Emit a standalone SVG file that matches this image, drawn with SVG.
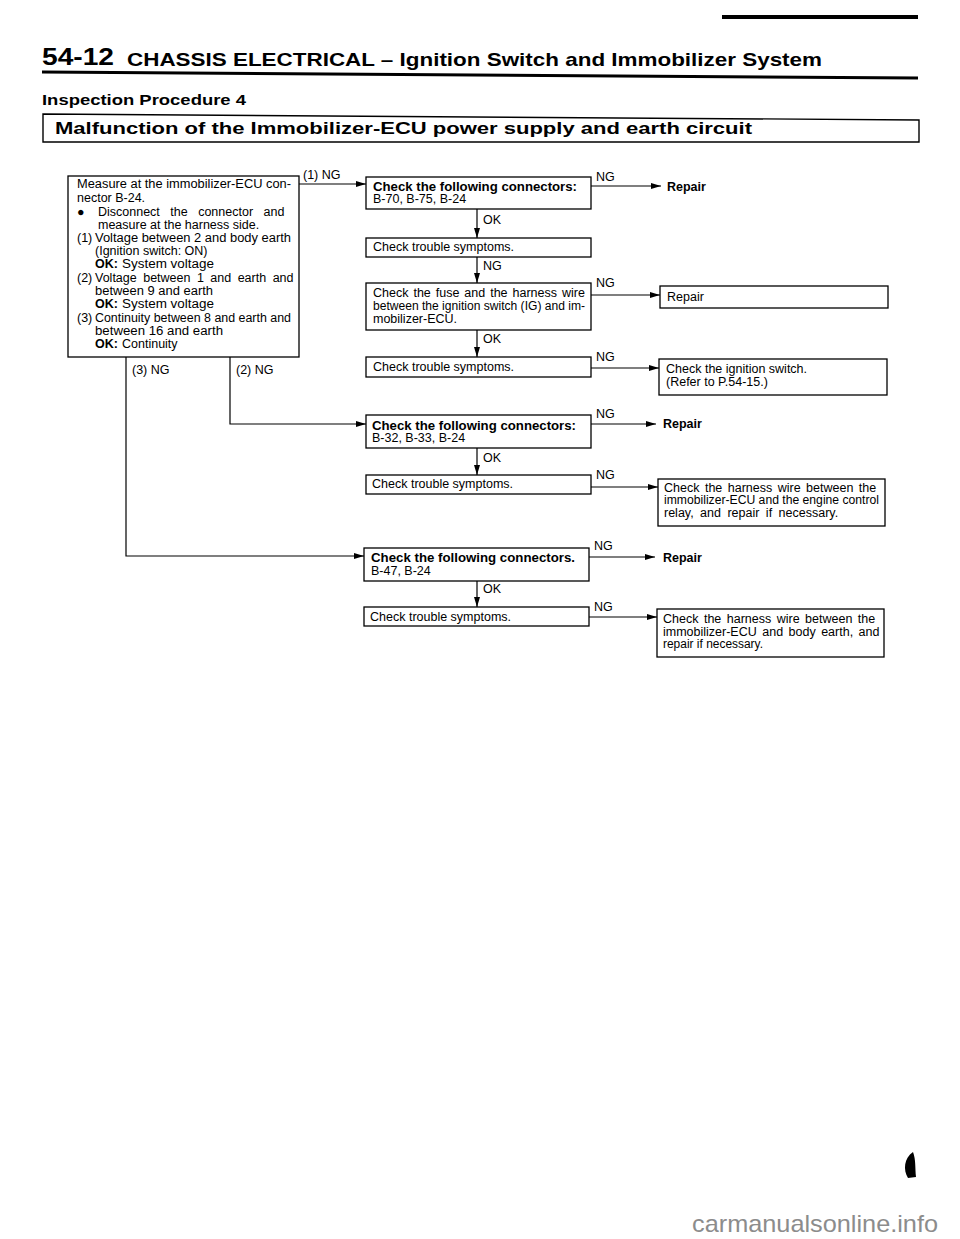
<svg xmlns="http://www.w3.org/2000/svg" width="960" height="1239" viewBox="0 0 960 1239">
<style>
.t{font-family:"Liberation Sans",Arial,sans-serif;font-size:12.5px;fill:#000}
.b{font-weight:bold}
.h{font-family:"Liberation Sans",Arial,sans-serif;font-weight:bold;fill:#000}
.box{fill:#fff;stroke:#000;stroke-width:1.3}
.ln{fill:none;stroke:#000;stroke-width:1.2}
.wm{font-family:"Liberation Sans",Arial,sans-serif;font-size:24px;fill:#8c8c8c}
</style>
<defs>
<marker id="ah" markerUnits="userSpaceOnUse" markerWidth="10" markerHeight="6" refX="10" refY="3" orient="auto">
<path d="M0,0 L10,3 L0,6 z" fill="#000"/>
</marker>
</defs>
<rect width="960" height="1239" fill="#fff"/>

<g id="header">
<rect x="722" y="15" width="196" height="4" fill="#000"/>
<text class="h" x="42" y="65" font-size="24" textLength="72" lengthAdjust="spacingAndGlyphs">54-12</text>
<text class="h" x="127" y="66" font-size="19" textLength="695" lengthAdjust="spacingAndGlyphs">CHASSIS ELECTRICAL – Ignition Switch and Immobilizer System</text>
<path d="M42,72 L918,78" stroke="#000" stroke-width="3" fill="none"/>
<text class="h" x="42" y="105" font-size="15" textLength="204" lengthAdjust="spacingAndGlyphs">Inspection Procedure 4</text>
<path d="M43,142 V114 L919,120 V142 Z" fill="none" stroke="#000" stroke-width="1.4"/>
<text class="h" x="55" y="134" font-size="16" textLength="697" lengthAdjust="spacingAndGlyphs">Malfunction of the Immobilizer-ECU power supply and earth circuit</text>
</g>

<g id="connectors">
<path class="ln" d="M299,184 H366" marker-end="url(#ah)"/>
<path class="ln" d="M230,357 V424 H366" marker-end="url(#ah)"/>
<path class="ln" d="M126,357 V556 H364" marker-end="url(#ah)"/>
<path class="ln" d="M477,209 V238" marker-end="url(#ah)"/>
<path class="ln" d="M477,257 V283" marker-end="url(#ah)"/>
<path class="ln" d="M477,330 V357" marker-end="url(#ah)"/>
<path class="ln" d="M477,448 V475" marker-end="url(#ah)"/>
<path class="ln" d="M477,581 V607" marker-end="url(#ah)"/>
<path class="ln" d="M591,186 H661" marker-end="url(#ah)"/>
<path class="ln" d="M591,295 H660" marker-end="url(#ah)"/>
<path class="ln" d="M591,368 H659" marker-end="url(#ah)"/>
<path class="ln" d="M591,424 H656" marker-end="url(#ah)"/>
<path class="ln" d="M591,487 H658" marker-end="url(#ah)"/>
<path class="ln" d="M589,557 H655" marker-end="url(#ah)"/>
<path class="ln" d="M589,617 H657" marker-end="url(#ah)"/>
<text class="t" x="303" y="179">(1) NG</text>
<text class="t" x="236" y="374">(2) NG</text>
<text class="t" x="132" y="374">(3) NG</text>
<text class="t" x="483" y="224">OK</text>
<text class="t" x="483" y="270">NG</text>
<text class="t" x="483" y="343">OK</text>
<text class="t" x="483" y="462">OK</text>
<text class="t" x="483" y="593">OK</text>
<text class="t" x="596" y="181">NG</text>
<text class="t" x="596" y="287">NG</text>
<text class="t" x="596" y="361">NG</text>
<text class="t" x="596" y="418">NG</text>
<text class="t" x="596" y="479">NG</text>
<text class="t" x="594" y="550">NG</text>
<text class="t" x="594" y="611">NG</text>
</g>

<g id="measure">
<rect class="box" x="68" y="176" width="231" height="181"/>
<text class="t" x="77" y="188" textLength="214" lengthAdjust="spacingAndGlyphs">Measure at the immobilizer-ECU con-</text>
<text class="t" x="77" y="202">nector B-24.</text>
<text class="t" x="77" y="216">●</text>
<text class="t" x="98" y="216" word-spacing="7">Disconnect the connector and</text>
<text class="t" x="98" y="229">measure at the harness side.</text>
<text class="t" x="77" y="242">(1)</text>
<text class="t" x="95" y="242" textLength="196" lengthAdjust="spacingAndGlyphs">Voltage between 2 and body earth</text>
<text class="t" x="95" y="255">(Ignition switch: ON)</text>
<text class="t b" x="95" y="268">OK:</text>
<text class="t" x="122" y="268" textLength="92" lengthAdjust="spacingAndGlyphs">System voltage</text>
<text class="t" x="77" y="282">(2)</text>
<text class="t" x="95" y="282" word-spacing="3">Voltage between 1 and earth and</text>
<text class="t" x="95" y="295" textLength="118" lengthAdjust="spacingAndGlyphs">between 9 and earth</text>
<text class="t b" x="95" y="308">OK:</text>
<text class="t" x="122" y="308" textLength="92" lengthAdjust="spacingAndGlyphs">System voltage</text>
<text class="t" x="77" y="322">(3)</text>
<text class="t" x="95" y="322" textLength="196" lengthAdjust="spacingAndGlyphs">Continuity between 8 and earth and</text>
<text class="t" x="95" y="335" textLength="128" lengthAdjust="spacingAndGlyphs">between 16 and earth</text>
<text class="t b" x="95" y="348">OK:</text>
<text class="t" x="122" y="348">Continuity</text>
</g>

<g id="conn1">
<rect class="box" x="366" y="177" width="225" height="32"/>
<text class="t b" x="373" y="191" textLength="204" lengthAdjust="spacingAndGlyphs">Check the following connectors:</text>
<text class="t" x="373" y="203">B-70, B-75, B-24</text>
</g>
<g id="repair1"><text class="t b" x="667" y="191">Repair</text></g>

<g id="trouble1">
<rect class="box" x="366" y="238" width="225" height="19"/>
<text class="t" x="373" y="251">Check trouble symptoms.</text>
</g>

<g id="fuse">
<rect class="box" x="366" y="283" width="225" height="47"/>
<text class="t" x="373" y="297" word-spacing="1.5">Check the fuse and the harness wire</text>
<text class="t" x="373" y="310" textLength="212" lengthAdjust="spacingAndGlyphs">between the ignition switch (IG) and im-</text>
<text class="t" x="373" y="323">mobilizer-ECU.</text>
</g>
<g id="repair2">
<rect class="box" x="660" y="286" width="228" height="22"/>
<text class="t" x="667" y="301">Repair</text>
</g>

<g id="trouble2">
<rect class="box" x="366" y="357" width="225" height="20"/>
<text class="t" x="373" y="371">Check trouble symptoms.</text>
</g>
<g id="ignition">
<rect class="box" x="659" y="359" width="228" height="36"/>
<text class="t" x="666" y="373">Check the ignition switch.</text>
<text class="t" x="666" y="386">(Refer to P.54-15.)</text>
</g>

<g id="conn2">
<rect class="box" x="366" y="415" width="225" height="33"/>
<text class="t b" x="372" y="430" textLength="204" lengthAdjust="spacingAndGlyphs">Check the following connectors:</text>
<text class="t" x="372" y="442">B-32, B-33, B-24</text>
</g>
<g id="repair3"><text class="t b" x="663" y="428">Repair</text></g>

<g id="trouble3">
<rect class="box" x="366" y="475" width="225" height="19"/>
<text class="t" x="372" y="488">Check trouble symptoms.</text>
</g>
<g id="harness1">
<rect class="box" x="658" y="479" width="227" height="47"/>
<text class="t" x="664" y="492" word-spacing="2">Check the harness wire between the</text>
<text class="t" x="664" y="504" textLength="215" lengthAdjust="spacingAndGlyphs">immobilizer-ECU and the engine control</text>
<text class="t" x="664" y="517" word-spacing="3">relay, and repair if necessary.</text>
</g>

<g id="conn3">
<rect class="box" x="364" y="548" width="225" height="33"/>
<text class="t b" x="371" y="562" textLength="204" lengthAdjust="spacingAndGlyphs">Check the following connectors.</text>
<text class="t" x="371" y="575">B-47, B-24</text>
</g>
<g id="repair4"><text class="t b" x="663" y="562">Repair</text></g>

<g id="trouble4">
<rect class="box" x="364" y="607" width="225" height="19"/>
<text class="t" x="370" y="621">Check trouble symptoms.</text>
</g>
<g id="harness2">
<rect class="box" x="657" y="609" width="227" height="48"/>
<text class="t" x="663" y="623" word-spacing="2">Check the harness wire between the</text>
<text class="t" x="663" y="636" word-spacing="2">immobilizer-ECU and body earth, and</text>
<text class="t" x="663" y="648" textLength="100" lengthAdjust="spacingAndGlyphs">repair if necessary.</text>
</g>

<path d="M913,1152 C904,1158 903,1170 908,1178 L916,1177 C915,1168 916,1160 913,1152 Z" fill="#000"/>
<text class="wm" x="692" y="1232" textLength="246" lengthAdjust="spacingAndGlyphs">carmanualsonline.info</text>
</svg>
